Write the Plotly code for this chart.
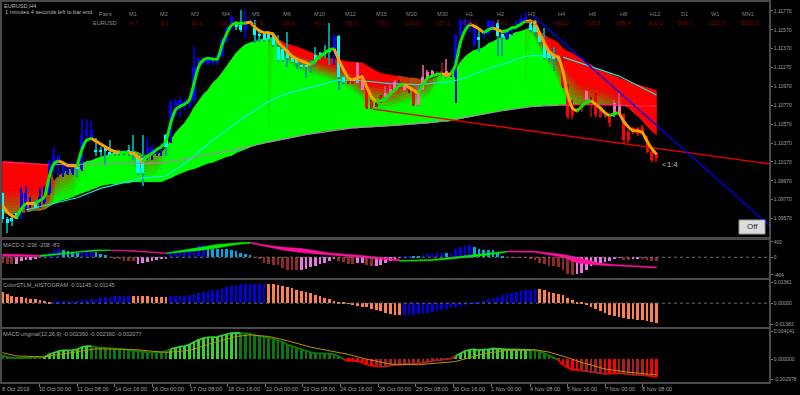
import plotly.graph_objects as go

# ---------- data (prices are stored in 1/10000) ----------
candle_high = [10985,10959,10963,10964,10989,10991,10980,10977,10989,10991,
11019,11033,11024,11016,11016,11016,11016,11062,11063,11060,
11042,11033,11033,11040,11030,11030,11030,11035,11046,11024,
11045,11042,11035,11033,11037,11047,11083,11084,11086,11084,
11084,11139,11127,11128,11129,11129,11130,11148,11160,11173,
11166,11178,11178,11169,11167,11157,11155,11155,11155,11152,
11141,11155,11130,11127,11122,11122,11125,11139,11134,11141,
11164,11153,11152,11109,11107,11106,11123,11109,11097,11083,
11081,11088,11097,11099,11104,11104,11100,11100,11092,11099,
11120,11114,11114,11113,11123,11126,11114,11153,11169,11169,
11167,11160,11157,11157,11167,11167,11167,11157,11159,11160,
11166,11173,11176,11169,11167,11155,11159,11136,11139,11130,
11129,11100,11083,11074,11077,11093,11086,11090,11076,11069,
11067,11083,11090,11069,11051,11054,11054,11056,11044,11030,
11028]
candle_body_top = [10984,10957,10958,10963,10984,10984,10975,10975,10980,10980,
11017,11023,11023,11016,11007,11016,11012,11046,11051,11051,
11030,11030,11032,11028,11028,11028,11028,11029,11028,11023,
11021,11032,11032,11032,11035,11046,11081,11081,11083,11081,
11083,11118,11126,11126,11127,11127,11129,11146,11159,11171,
11164,11162,11166,11167,11159,11153,11153,11153,11153,11139,
11137,11136,11127,11125,11120,11120,11122,11130,11132,11134,
11136,11150,11150,11107,11106,11104,11122,11108,11095,11081,
11078,11086,11090,11094,11102,11102,11099,11099,11090,11090,
11107,11112,11113,11110,11113,11113,11112,11152,11167,11167,
11166,11159,11149,11155,11166,11166,11164,11153,11157,11159,
11164,11169,11171,11167,11166,11153,11143,11134,11129,11129,
11111,11095,11076,11072,11076,11092,11081,11088,11076,11067,
11065,11079,11078,11067,11049,11053,11053,11054,11037,11028,
11026]
candle_body_bottom = [10956,10952,10954,10957,10968,10968,10972,10968,10972,10975,
10984,11016,11016,11005,11005,11005,11009,11009,11044,11042,
11027,11027,11029,11024,11026,11026,11027,11028,11024,11005,
11005,11023,11024,11026,11032,11033,11047,11067,11076,11076,
11076,11083,11116,11122,11122,11122,11122,11129,11144,11159,
11160,11157,11157,11164,11152,11150,11146,11147,11141,11125,
11125,11127,11123,11122,11118,11118,11120,11123,11129,11130,
11134,11137,11107,11102,11101,11100,11101,11093,11074,11074,
11076,11081,11086,11088,11094,11097,11093,11093,11077,11077,
11093,11107,11109,11109,11110,11107,11110,11107,11153,11162,
11159,11141,11146,11152,11153,11157,11150,11149,11147,11155,
11159,11164,11166,11157,11155,11144,11127,11127,11126,11126,
11097,11065,11067,11070,11072,11083,11078,11067,11065,11065,
11058,11067,11069,11040,11040,11049,11047,11048,11028,11019,
11021]
candle_low = [10952,10942,10949,10956,10956,10963,10968,10966,10968,10972,
10982,11003,11001,11001,11003,11003,11001,11007,11040,11040,
11023,11023,11014,11023,11023,11023,11024,11023,11019,11003,
10991,11019,11019,11023,11023,11023,11037,11065,11065,11072,
11074,11079,11113,11120,11120,11120,11120,11127,11143,11157,
11157,11155,11148,11162,11143,11144,11144,11144,11139,11123,
11123,11118,11122,11116,11116,11106,11111,11120,11125,11127,
11120,11120,11093,11099,11100,11100,11100,11092,11073,11073,
11075,11079,11083,11083,11093,11095,11092,11090,11076,11076,
11092,11104,11107,11107,11108,11106,11107,11079,11150,11159,
11155,11139,11134,11148,11152,11155,11129,11129,11146,11152,
11157,11162,11164,11155,11150,11141,11125,11123,11113,11123,
11095,11063,11063,11069,11070,11079,11065,11065,11064,11064,
11054,11065,11067,11037,11037,11047,11044,11047,11026,11017,
11017]
candle_kind = ("cccc"+"bbb"+"c"+"bb"+"bbbbbb"+"c"+"bbb"+"cccccc"+"b"+"cccc"+"bbbb"+"c"+"b"*14+"cc"+"bb"+"c"*17+"b"+"cc"
               +"r"+"d"+"pp"+"rr"+"d"+"r"+"ppp"+"d"+"p"+"d"+"r"+"pppp"+"dd"+"p"+"d"+"bbbbb"+"c"+"bbb"+"cc"+"bbbbb"
               +"ccccccc"+"rrr"+"dd"+"p"+"d"+"r"+"dd"+"r"+"pp"+"r"*8)

cloud_high = [11017,11017,11017,11016,11016,11016,11015,11015,11015,11014,11014,
10996,11002,11005,11008,11010,11013,11015,11017,11018,11020,11022,11023,11025,11026,11027,11028,11028,11028,11027,
11024,11024,11024,11025,11026,11032,11039,11047,11053,11058,11065,11074,11081,11088,11093,11100,11105,11111,11118,11125,
11132,11137,11141,11143,11144,11146,11147,11148,11149,11147,11144,11142,11140,11139,11137,11135,11133,11131,11130,11128,
11127,11126,11125,11124,11123,11123,11122,11122,11119,11116,11113,11111,11110,11109,11108,11108,11107,11106,11106,11105,
11104,11104,11105,11107,11109,11110,11111,11114,11122,11128,11132,11135,11136,11138,11142,11144,11147,11149,11151,11152,
11154,11155,11157,11159,11159,11155,11152,11148,11146,11143,11137,11134,11132,11129,11126,11122,11120,11116,11114,11112,
11110,11108,11106,11104,11102,11100,11099,11097,11096,11094,11093]
cloud_low = [10963,10963,10962,10963,10964,10964,10965,10966,10966,10967,10970,
10973,10975,10977,10978,10980,10982,10984,10986,10988,10990,10992,10993,10994,10994,10995,10995,10995,10996,10996,
10996,10996,10996,10996,10996,10998,11000,11003,11005,11007,11009,11010,11012,11014,11016,11017,11019,11021,11023,11024,
11027,11029,11031,11033,11035,11036,11038,11038,11039,11040,11041,11042,11043,11044,11045,11046,11047,11048,11049,11050,
11050,11051,11052,11052,11053,11053,11053,11054,11054,11054,11055,11055,11055,11056,11056,11056,11057,11057,11057,11058,
11058,11058,11059,11059,11060,11060,11061,11062,11063,11064,11065,11066,11067,11068,11069,11070,11071,11072,11072,11073,
11074,11075,11075,11076,11076,11076,11077,11077,11077,11077,11077,11077,11078,11078,11079,11079,11079,11079,11078,11078,
11078,11078,11077,11077,11075,11070,11066,11061,11055,11050,11046]
blend_ceil = [10987]*11 + [
10996,11002,11005,11008,11010,11013,11015,11017,11018,11020,11022,11023,11025,11026,11027,11028,11028,11028,11027,
11024,11024,11024,11025,11026,11032,11039,11047,11053,11058,11065,11074,11081,11088,11093,11100,11105,11111,11118,11125,
11132,11137,11141,11143,11144,11146,11147,11148,
11148,11145,11139,11136,11135,11132,11130,11129,11126,11125,11123,11122,11120,11119,11118,11116,11114,11111,11108,11105,
11102,11100,11099,11098,11097,11097,11097,11097,11098,11099,11099,11100,11101,11102,11103,11104,11107,
11110,11111,11114,11122,11128,11132,11135,11136,11138,11142,11144,11147,11149,11151,11152,11154,11155,11157,
11157,11157,11153,11146,11141,11136,11129,11122,11116,11109,11104,11100,11099,11098,11097,11095,11093,11092,11090,11088,11086,
11083,11083,11083,11083,11083,11083,11083]
blend_floor = [10963,10963,10962,10963,10964,10964,10965,10966,10966,10967,10970,
10977,10978,10979,10980,10982,10991,11001,
10986,10988,10990,10992,10993,10994,10994,10995,10995,10995,
11009,11003,11001,11001,11003,11005,11009,11023,
11000,11003,11005,11007,11009,11010,11012,11014,11016,11017,11019,11021,11023,11024,
11027,11029,11031,11033,11035,11036,11038,11038,
11143,11136,11129,11123,11120,11116,11114,11112,11110,11109,11107,11106,11104,11102,11100,11099,11095,11092,11088,11083,
11079,11076,11074,11074,11074,11075,11076,11077,11079,11080,11081,11083,11084,11086,11093,11099,11104,
11060,11061,11062,11063,11064,11065,11066,11067,11068,11069,11070,11071,11072,11072,11073,11074,11075,11075,
11153,11146,11136,11129,11120,11113,11102,11090,11077,
11078,11078,11079,11079,11079,11079,11078,11078,11078,11078,11077,11077,11075,11070,11066,11061,11055,11050,11046]
red_high = [1.0]*11 + [.6,.55,.5,.5,.45,.3,.1] + [0.0]*10 + [.1,.3,.4,.45,.45,.4,.3,.1] + [0.0]*22 + [.3,.7] + [1.0]*25 \
    + [.85,.8,.75,.7,.7,.7,.65] + [.5,.2] + [0.0]*19 + [.2,.5,.8] + [1.0]*25
red_low = [.55]*10 + [.3] + [0.0]*111 + [.2,.3,.4,.45,.5,.5,.5,.5,.6,.7,.8,.9] + [1.0]*7

mid_ma_bars = [5,16,21,30,35,40,45,52,57,60,65,70,72,77,83,89,92,96,99,104,108,112,114,119,None,120,126,132,140]
mid_ma_pips = [10966,10979,10989,11000,11002,11019,11040,11065,11081,11088,11095,11102,11104,11103,11100,11099,11100,11102,11106,11116,11122,11129,11130,11129,None,11128,11118,11108,11088]
slow_ma_bars = [11,28,35,42,50,57,65,75,85,92,100,108,114,119]
slow_ma_pips = [11014,11015,11016,11023,11030,11038,11046,11053,11056,11059,11065,11072,11076,11077]
slow_red_bars = [[0,10],[119,125,140]]
slow_red_pips = [[11017,11014],[11077,11078,11076]]

signal_pips = [10971,10964,10960,10958,10967,10973,10973,10973,10976,10980,
11001,11015,11018,11016,11013,11013,11013,11030,11040,11042,
11039,11036,11033,11030,11028,11027,11027,11027,11026,11022,
11017,11023,11026,11030,11033,11039,11058,11072,11076,11078,
11083,11100,11118,11125,11127,11126,11126,11141,11153,11162,
11164,11164,11164,11165,11160,11156,11154,11154,11152,11144,
11139,11134,11129,11126,11124,11122,11120,11125,11129,11132,
11136,11137,11125,11115,11106,11104,11106,11107,11096,11086,
11081,11082,11084,11089,11093,11098,11099,11096,11093,11090,
11099,11106,11108,11110,11110,11110,11110,11120,11143,11156,
11163,11161,11158,11154,11157,11159,11157,11155,11156,11159,
11160,11163,11166,11166,11164,11153,11143,11134,11130,11128,
11113,11088,11074,11071,11076,11080,11082,11078,11074,11069,
11066,11068,11069,11060,11054,11050,11050,11048,11039,11031,
11025]
signal_trend = ("ooo"+"gg"+"oo"+"ggggg"+"oooo"+"ggg"+"oooooo"+"gg"+"ooo"+"g"*22+"o"*14+"ggggg"+"o"*9+"g"*6+"ooo"+"ggggg"
                +"oo"+"gggg"+"ooo"+"gg"+"oo"+"ggggg"+"o"*11+"ggg"+"oooo"+"gg"+"o"*9)

trend_blue_bars = [113.6, 164.1]
trend_blue_pips = [11172, 10950]
trend_red_bars = [79.3, 164.1]
trend_red_pips = [11073, 11015]

macd2_hist = [-148,-166,-166,-175,-87,-61,-61,-44,10,52,113,200,218,200,157,131,113,140,183,183,140,96,52,-15,-35,-35,-105,-105,-105,
-166,-148,-122,-87,-70,-52,-35,113,157,200,183,200,245,332,332,270,227,210,210,210,200,157,113,87,70,-17,-35,-148,
-175,-192,-210,-280,-323,-323,-340,-340,-297,-262,-236,-166,-148,-87,-35,-87,-131,-175,-175,-148,-148,-210,-236,-236,-192,-157,-105,-52,-17,
17,17,17,26,52,96,96,113,113,113,113,210,270,305,332,270,227,200,183,183,113,26,
-17,-17,-17,-17,-17,-35,-61,-148,-175,-236,-236,-262,-323,-428,-454,-436,-410,-323,-236,-175,-148,-122,-105,-35,-17,-61,-61,-35,-35,-35,-61,-87,-87]
macd2_kind = ("ddd"+"ppppp"+"bbbbb"+"ssss"+"bbb"+"sss"+"dddddd"+"ppppppp"+"b"*8+"s"*10+"d"*10+"p"*8+"dddd"+"pp"+"dd"+"pppppp"
              +"bb"+"ss"+"bbbbb"+"s"+"bbbbb"+"sssssss"+"d"*15+"p"*10+"dd"+"pp"+"dddd")
band_bars = [0,4,8, 8,12,17,20,23, 23,28,35, 35,42,46,50,53, 53,57,60,64,70,78,85, 85,92,100,106,108, 108,114,120,123,128,132,140]
band_high = [87,70,52, 52,96,157,192,192, 192,175,113, 113,244,332,375,393, 393,306,262,227,113,35,-61, -87,-61,52,140,157, 166,157,70,0,-157,-201,-253]
band_low = [26,17,17, 17,70,140,166,183, 175,157,96, 96,175,244,332,367, 367,262,192,122,70,-17,-96, -105,-87,0,96,140, 140,131,0,-148,-210,-227,-279]
band_kind = "ppp"+"ggggg"+"ppp"+"ggggg"+"ppppppp"+"ggggg"+"ppppppp"

stlm_e5 = [726,594,506,418,396,330,308,264,220,154,110,
110,132,154,154,154,176,198,220,264,308,352,418,440,462,462,484,484,484,484,484,462,440,418,418,418,
462,462,484,506,550,594,660,726,814,858,902,990,1056,1144,1210,1254,1276,1298,1298,1298,1298,
1298,1254,1210,1144,1078,990,902,814,748,660,550,462,374,286,176,88,22,-44,-88,-154,-220,-286,-374,-462,-550,-638,-726,-770,-792,
-814,-814,-792,-748,-726,-682,-616,-550,-484,-418,-352,-286,-198,-110,-22,44,110,176,264,330,440,550,638,704,770,814,880,902,924,
924,880,748,704,638,550,374,220,110,22,-132,-264,-396,-506,-638,-770,-836,-924,-990,-1056,-1078,-1100,-1144,-1188,-1232,-1298]
stlm_kind = "s"*11+"b"*17+"s"*8+"b"*21+"s"*29+"b"*29+"s"*26

macd_e6 = [634,342,244,146,146,195,244,244,244,342,732,976,1220,1318,1318,1366,1464,1806,1952,1952,
1806,1708,1708,1659,1562,1513,1464,1318,1220,1220,1122,1074,1025,1025,1025,1220,1513,1708,1903,1952,
2196,2586,2928,3172,3270,3318,3367,3562,3758,3904,3953,3904,3904,3855,3562,3416,3270,3172,3074,2782,
2586,2196,1952,1708,1562,1220,1025,927,830,830,830,732,439,0,-244,-244,-293,-488,-830,-976,
-1122,-1122,-1122,-976,-830,-830,-781,-732,-683,-634,-537,-390,-244,-146,-98,-49,98,488,878,1220,
1415,1464,1366,1366,1464,1610,1610,1513,1464,1464,1513,1513,1464,1415,1366,1220,878,586,244,-146,
-830,-1220,-1610,-1610,-1708,-1806,-1903,-2098,-2196,-2196,-2196,-2196,-2098,-2196,-2342,-2342,-2342,-2391,-2440,-2586,-2684]
macd_kind = "g"*9+"G"*10+"g"*17+"G"*15+"g"*22+"R"*7+"r"*17+"G"*16+"g"*6+"R"*5+"r"*5+"R"*3+"r"*6+"R"*3
macd_signal_bars = [0,3,9,14,20,28,35,40,45,50,53,57,61,66,71,74,78,83,89,97,103,108,114,117,121,124,129,134,140]
macd_signal_e6 = [976,488,342,878,1562,1464,1025,1318,2440,3416,3660,3416,2782,1806,1074,732,0,-732,-830,-342,830,1318,1415,1074,244,-488,-1464,-1952,-2342]

date_bars = [-0.2,7.88,15.95,24.0,32.1,40.15,48.2,56.4,64.3,72.3,80.5,88.5,96.5,104.6,113,120.9,129,137]
date_labels = ["8 Oct 2019","10 Oct 00:00","11 Oct 08:00","14 Oct 16:00","16 Oct 00:00","17 Oct 08:00","18 Oct 16:00",
               "22 Oct 00:00","23 Oct 08:00","24 Oct 16:00","28 Oct 00:00","29 Oct 08:00","30 Oct 16:00","1 Nov 00:00",
               "4 Nov 08:00","5 Nov 16:00","7 Nov 00:00","8 Nov 08:00"]
price_ticks = [1.11770,1.11570,1.11370,1.11170,1.10970,1.10770,1.10570,1.10370,1.10170,1.09970,1.09770,1.09570]
macd2_ticks = [400,0,-464]
stlm_ticks = [0.01361,0.0,-0.01383]
macd_ticks = [0.004141,0.0,-0.002978]

pair_columns = ["M1","M2","M3","M4","M5","M6","M10","M12","M15","M20","M30","H1","H2","H3","H4","H6","H8","H12","D1","W1","MN1"]
pair_values = ["-4.7","-9.1","-10.9","-13.6","-15.9","-19.3","-41.1","-55.2","-73.0","-103.9","-157.2","-353.4","-474.0","-471.6",
               "-682.2","-715.3","-689.4","-610.1","-538.7","-2123.3","-5032.2"]
pair_centers = [133,164,195,226,256,287,319,350,381,411,442,469,500,531,561,592,623,655,684,715,748]

# ---------- layout helpers ----------
W, H = 800, 395
BARS = list(range(len(candle_high)))

def price(seq):
    return [None if v is None else v / 1e4 for v in seq]

XR = [-0.107, 164.1]
XD = [2 / W, 769 / W]
panes = {"": (2, 237, [1.09374, 1.11865]), "2": (240, 278, [-543, 452]),
         "3": (280, 326.5, [-0.01548, 0.01539]), "4": (329.3, 381.7, [-0.003373, 0.004492])}
FONT = "Liberation Sans"
TXT = "#a0a0a0"
SZ = 5.6
TICK_SZ = 5.0

fig = go.Figure()

# ---------- cloud: quads grouped by quantised colour, on the base axes ----------
LEVELS = 20
K = 8
groups = {n: ([], []) for n in range(LEVELS + 1)}

def add_quad(i, y0a, y1a, y0b, y1b, r):
    n = int(round(r * LEVELS))
    gx, gy = groups[n]
    gx += [i, i, i + 1, i + 1, i, None]
    gy += [y0a, y1a, y1b, y0b, y0a, None]

for i in range(140):
    la, fa, ca, ha = cloud_low[i], blend_floor[i], blend_ceil[i], cloud_high[i]
    lb, fb, cb, hb = cloud_low[i + 1], blend_floor[i + 1], blend_ceil[i + 1], cloud_high[i + 1]
    rla, rha, rlb, rhb = red_low[i], red_high[i], red_low[i + 1], red_high[i + 1]
    add_quad(i, la, fa, lb, fb, (rla + rlb) / 2)
    add_quad(i, ca, ha, cb, hb, (rha + rhb) / 2)
    for j in range(K):
        t0, t1 = j / K, (j + 1) / K
        tm = (t0 + t1) / 2
        ra = rla + (rha - rla) * tm
        rb = rlb + (rhb - rlb) * tm
        add_quad(i, fa + (ca - fa) * t0, fa + (ca - fa) * t1, fb + (cb - fb) * t0, fb + (cb - fb) * t1, (ra + rb) / 2)

for n, (gx, gy) in groups.items():
    if not gx:
        continue
    r = n / LEVELS
    col = f"rgb({int(255 * r)},{int(255 * (1 - r))},0)"
    fig.add_trace(go.Scatter(x=gx, y=price(gy), mode="lines", fill="toself", fillcolor=col,
                             line=dict(color=col, width=0.7), hoverinfo="skip", showlegend=False))

# ---------- candles, on overlaying axes so they sit above the cloud ----------
OV = dict(xaxis="x5", yaxis="y5", showlegend=False)
body_col = dict(b="#0000ff", c="#00ffff", r="#ff0000", d="#a01818", p="#ff69b4")
wick_col = dict(b="#0000c8", c="#009a9a", r="#c00000", d="#801010", p="#c05080")
wick_h = [(a - b) / 1e4 for a, b in zip(candle_high, candle_low)]
body_h = [max(a - b, 1) / 1e4 for a, b in zip(candle_body_top, candle_body_bottom)]
fig.add_trace(go.Bar(x=BARS, y=wick_h, base=price(candle_low), width=0.24,
                     marker=dict(color=[wick_col[k] for k in candle_kind], line_width=0), **OV))
fig.add_trace(go.Bar(x=BARS, y=body_h, base=price(candle_body_bottom), width=0.66,
                     marker=dict(color=[body_col[k] for k in candle_kind], line_width=0), **OV))

# ---------- moving averages and trend lines ----------
fig.add_trace(go.Scatter(x=mid_ma_bars, y=price(mid_ma_pips), mode="lines", line=dict(color="#20e0e0", width=1.2), **OV))
fig.add_trace(go.Scatter(x=slow_ma_bars, y=price(slow_ma_pips), mode="lines", line=dict(color="#a888a8", width=1.2), **OV))
for xs, ys in zip(slow_red_bars, slow_red_pips):
    fig.add_trace(go.Scatter(x=xs, y=price(ys), mode="lines", line=dict(color="#ff2070", width=1.2), **OV))
fig.add_trace(go.Scatter(x=trend_red_bars, y=price(trend_red_pips), mode="lines", line=dict(color="#e80000", width=1.4), **OV))
fig.add_trace(go.Scatter(x=trend_blue_bars, y=price(trend_blue_pips), mode="lines", line=dict(color="#0000f0", width=1.4), **OV))

# ---------- thick signal line, drawn run by run ----------
start = 0
for i in range(1, 141):
    if i == 140 or signal_trend[i] != signal_trend[start]:
        col = "#ffa000" if signal_trend[start] == "o" else "#00f000"
        fig.add_trace(go.Scatter(x=BARS[start:i + 1], y=price(signal_pips[start:i + 1]), mode="lines",
                                 line=dict(color=col, width=3, shape="spline", smoothing=0.6), **OV))
        start = i

# ---------- MACD-2 pane ----------
m2col = dict(d="#8f2a2a", p="#e878e0", b="#0000e8", s="#00a8e8")
fig.add_trace(go.Bar(x=BARS, y=macd2_hist, width=0.58, xaxis="x2", yaxis="y2",
                     marker=dict(color=[m2col[k] for k in macd2_kind], line_width=0), showlegend=False))
start = 0
for i in range(1, len(band_bars) + 1):
    if i == len(band_bars) or band_kind[i] != band_kind[start]:
        col = "#ff10a0" if band_kind[start] == "p" else "#00f000"
        xs = band_bars[start:i]
        fig.add_trace(go.Scatter(x=xs + xs[::-1], y=band_high[start:i] + band_low[start:i][::-1], mode="lines", fill="toself",
                                 fillcolor=col, line=dict(color=col, width=0.6), xaxis="x2", yaxis="y2", showlegend=False))
        start = i

# ---------- ColorSTLM pane ----------
fig.add_trace(go.Bar(x=BARS, y=[v * 1e-5 for v in stlm_e5], width=0.58, xaxis="x3", yaxis="y3",
                     marker=dict(color=["#0000e0" if k == "b" else "#ff8050" for k in stlm_kind], line_width=0), showlegend=False))

# ---------- MACD original pane ----------
mcol = dict(G="#38d030", g="#0a780a", R="#ff0000", r="#a82020")
macd_vals = [v * 1e-6 for v in macd_e6]
fig.add_trace(go.Bar(x=BARS, y=macd_vals, width=0.58, xaxis="x4", yaxis="y4",
                     marker=dict(color=[mcol[k] for k in macd_kind], line_width=0), showlegend=False))
start = 0
for i in range(1, 141):
    if i == 140 or macd_kind[i] != macd_kind[start]:
        fig.add_trace(go.Scatter(x=BARS[start:i + 1], y=macd_vals[start:i + 1], mode="lines",
                                 line=dict(color=mcol[macd_kind[start]], width=1.8), xaxis="x4", yaxis="y4", showlegend=False))
        start = i
fig.add_trace(go.Scatter(x=macd_signal_bars, y=[v * 1e-6 for v in macd_signal_e6], mode="lines",
                         line=dict(color="#c09000", width=1), xaxis="x4", yaxis="y4", showlegend=False))

# ---------- axes ----------
def axis_y(ticks, labels, rng, top, bottom, anchor):
    return dict(domain=[1 - bottom / H, 1 - top / H], range=rng, side="right", anchor=anchor, showgrid=False, zeroline=False,
                tickmode="array", tickvals=ticks, ticktext=labels, ticks="outside", ticklen=2, tickcolor="#707070", tickwidth=1,
                tickfont=dict(family=FONT, size=TICK_SZ, color=TXT), showline=True, linecolor="#4a4a4a", linewidth=1.5, mirror=True)

def axis_x(anchor, ticks=False):
    d = dict(domain=XD, range=XR, anchor=anchor, showgrid=False, zeroline=False, showticklabels=False,
             showline=True, linecolor="#4a4a4a", linewidth=2, mirror=True, ticks="")
    if ticks:
        d.update(tickmode="array", tickvals=date_bars, ticks="outside", ticklen=3, tickcolor="#707070", tickwidth=1)
    return d

layout = dict(width=W, height=H, autosize=False, margin=dict(l=0, r=0, t=0, b=0, pad=0), paper_bgcolor="#000000",
              plot_bgcolor="#000000", barmode="overlay", showlegend=False, hovermode=False, bargap=0)
layout["xaxis"] = axis_x("y")
layout["yaxis"] = axis_y(price_ticks, [f"{v:.5f}" for v in price_ticks], panes[""][2], 2, 237, "x")
layout["xaxis2"] = axis_x("y2")
layout["yaxis2"] = axis_y(macd2_ticks, [str(v) for v in macd2_ticks], panes["2"][2], 240, 278, "x2")
layout["xaxis3"] = axis_x("y3")
layout["yaxis3"] = axis_y(stlm_ticks, [f"{v:.5f}" for v in stlm_ticks], panes["3"][2], 280, 326.5, "x3")
layout["xaxis4"] = axis_x("y4", ticks=True)
layout["yaxis4"] = axis_y(macd_ticks, [f"{v:.6f}" for v in macd_ticks], panes["4"][2], 329.3, 381.7, "x4")
layout["xaxis5"] = dict(overlaying="x", range=XR, anchor="y5", visible=False)
layout["yaxis5"] = dict(overlaying="y", range=panes[""][2], anchor="x5", visible=False)
fig.update_layout(**layout)

# ---------- zero lines and button ----------
fig.add_shape(type="line", xref="x2", yref="y2", x0=XR[0], x1=XR[1], y0=0, y1=0, line=dict(color="#707070", width=1, dash="dot"), layer="above")
fig.add_shape(type="line", xref="x3", yref="y3", x0=XR[0], x1=XR[1], y0=0, y1=0, line=dict(color="#707070", width=1, dash="dot"), layer="above")
fig.add_shape(type="rect", xref="paper", yref="paper", x0=739 / W, x1=765 / W, y0=1 - 234 / H, y1=1 - 220 / H,
              fillcolor="#dcdcdc", line=dict(color="#9a9a9a", width=1), layer="above")

# ---------- texts ----------
def label(px, py, text, color=TXT, size=SZ, anchor="left"):
    fig.add_annotation(xref="paper", yref="paper", x=px / W, y=1 - py / H, text=text, showarrow=False, xanchor=anchor,
                       yanchor="middle", font=dict(family=FONT, size=size, color=color), borderpad=0, borderwidth=0)

label(4, 5.7, "EURUSD,H4", "#b8b8b8")
label(4.5, 12, "1 minutes 4 seconds left to bar end", "#b8b8b8")
label(105, 14.3, "Pairs", "#808080", anchor="center")
label(105, 23.5, "EURUSD", "#909090", anchor="center")
for c, v, px in zip(pair_columns, pair_values, pair_centers):
    label(px, 14.3, c, "#808080", anchor="center")
    label(px, 23.5, v, "#8b0000", anchor="center")
label(662, 164, "&lt;1:4", "#b8b8b8", size=8)
label(752, 227, "Off", "#303030", size=8, anchor="center")
label(3, 244.5, "MACD-2 -236 -208 -83")
label(3, 285, "ColorSTLM_HISTOGRAM -0.01145 -0.01145")
label(3, 334, "MACD original(12,26,9) -0.002360 -0.002360 -0.002077")
for b, t in zip(date_bars, date_labels):
    px = 2 + (b - XR[0]) * 767 / (XR[1] - XR[0])
    label(px, 388.5, t)

fig.write_html("out.html", config={"displayModeBar": False}, post_script="document.body.style.margin='0';document.body.style.overflow='hidden';")
